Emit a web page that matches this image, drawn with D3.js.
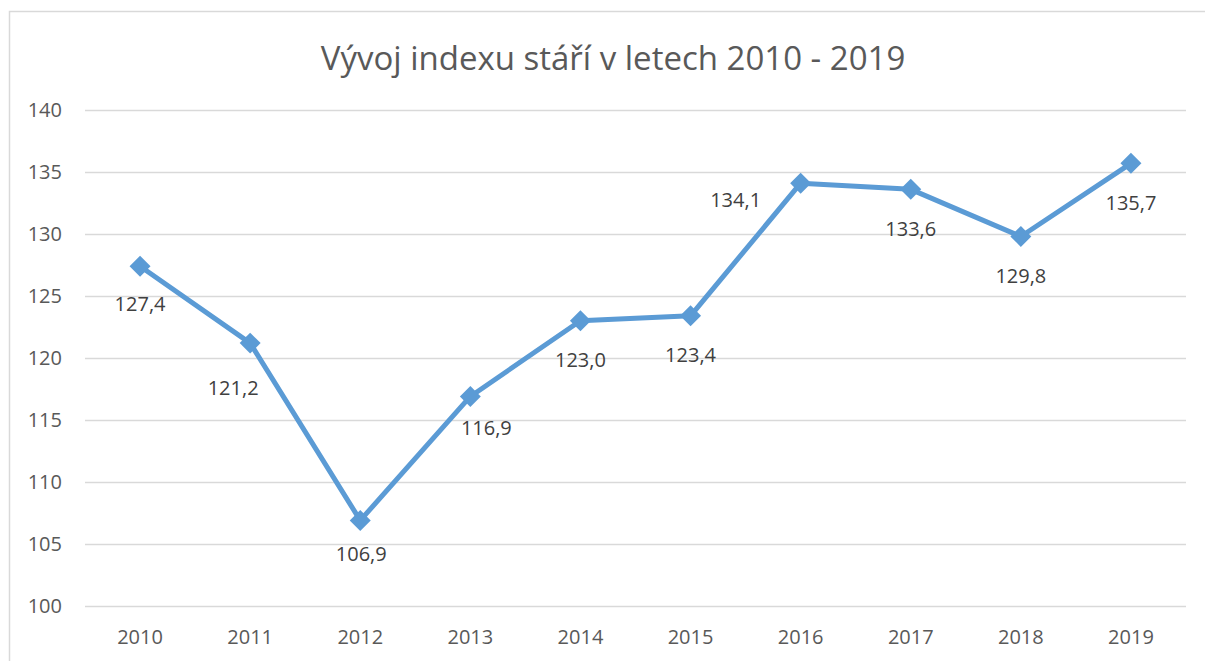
<!DOCTYPE html>
<html>
<head>
<meta charset="utf-8">
<title>Vývoj indexu stáří</title>
<script src="https://cdn.jsdelivr.net/npm/d3@7"></script>
<style>
  body { margin: 0; background: #fff; }
  svg { display: block; font-family: "Open Sans", sans-serif; }
</style>
</head>
<body>
<svg width="1205" height="661"></svg>
<script>
// data
var years = ["2010", "2011", "2012", "2013", "2014", "2015", "2016", "2017", "2018", "2019"];
var indexValues = [127.4, 121.2, 106.9, 116.9, 123.0, 123.4, 134.1, 133.6, 129.8, 135.7];
var yTicks = [100, 105, 110, 115, 120, 125, 130, 135, 140];
var title = "Vývoj indexu stáří v letech 2010 - 2019";

// label nudges (px from the marker), as placed in the original chart
var labelNudge = [[0, 38], [-17, 45], [1, 34], [16, 32], [0, 39], [0, 39], [-65, 17], [0, 40], [0, 40], [0, 40]];

var svg = d3.select("svg"),
    width = +svg.attr("width"),
    height = +svg.attr("height");

var plotLeft = 85, plotRight = 1186, plotTop = 110, plotBottom = 606;

var x = d3.scaleBand()
    .domain(years)
    .range([plotLeft, plotRight]);

var y = d3.scaleLinear()
    .domain([100, 140])
    .range([plotBottom, plotTop]);

// chart frame
svg.append("rect")
    .attr("x", 9.5)
    .attr("y", 11.5)
    .attr("width", width)
    .attr("height", height)
    .attr("fill", "none")
    .attr("stroke", "#d9d9d9")
    .attr("stroke-width", 1.5);

svg.append("text")
    .attr("x", 613)
    .attr("y", 70)
    .attr("text-anchor", "middle")
    .attr("font-size", 33)
    .attr("fill", "#595959")
    .text(title);

// y axis + gridlines
var yAxis = svg.append("g")
    .attr("transform", "translate(" + plotLeft + ",0)")
    .call(d3.axisLeft(y)
        .tickValues(yTicks)
        .tickSize(-(plotRight - plotLeft))
        .tickPadding(23));
yAxis.select(".domain").remove();
yAxis.selectAll("line")
    .attr("stroke", "#d9d9d9")
    .attr("stroke-width", 1.5);
yAxis.selectAll("text")
    .attr("font-size", 20)
    .attr("font-family", "Open Sans, sans-serif")
    .attr("fill", "#595959");

// x axis
var xAxis = svg.append("g")
    .attr("transform", "translate(0," + plotBottom + ")")
    .call(d3.axisBottom(x).tickSize(0).tickPadding(24));
xAxis.select(".domain").remove();
xAxis.selectAll("text")
    .attr("font-size", 20)
    .attr("font-family", "Open Sans, sans-serif")
    .attr("fill", "#595959");

var pts = years.map(function(d, i) {
  return { year: d, value: indexValues[i], i: i };
});

var cx = function(d) { return x(d.year) + x.bandwidth() / 2; };

var line = d3.line()
    .x(cx)
    .y(function(d) { return y(d.value); });

svg.append("path")
    .datum(pts)
    .attr("fill", "none")
    .attr("stroke", "#5b9bd5")
    .attr("stroke-width", 5)
    .attr("stroke-linejoin", "round")
    .attr("d", line);

var diamond = d3.symbol().type(d3.symbolSquare).size(220);

svg.append("g")
  .selectAll("path")
  .data(pts)
  .enter().append("path")
    .attr("d", diamond)
    .attr("fill", "#5b9bd5")
    .attr("transform", function(d) {
      return "translate(" + cx(d) + "," + y(d.value) + ") rotate(45)";
    });

svg.append("g")
  .selectAll("text")
  .data(pts)
  .enter().append("text")
    .attr("x", function(d) { return cx(d) + labelNudge[d.i][0]; })
    .attr("y", function(d) { return y(d.value) + labelNudge[d.i][1]; })
    .attr("dy", "0.35em")
    .attr("text-anchor", "middle")
    .attr("font-size", 20)
    .attr("fill", "#404040")
    .text(function(d) { return d3.format(".1f")(d.value).replace(".", ","); });
</script>
</body>
</html>
